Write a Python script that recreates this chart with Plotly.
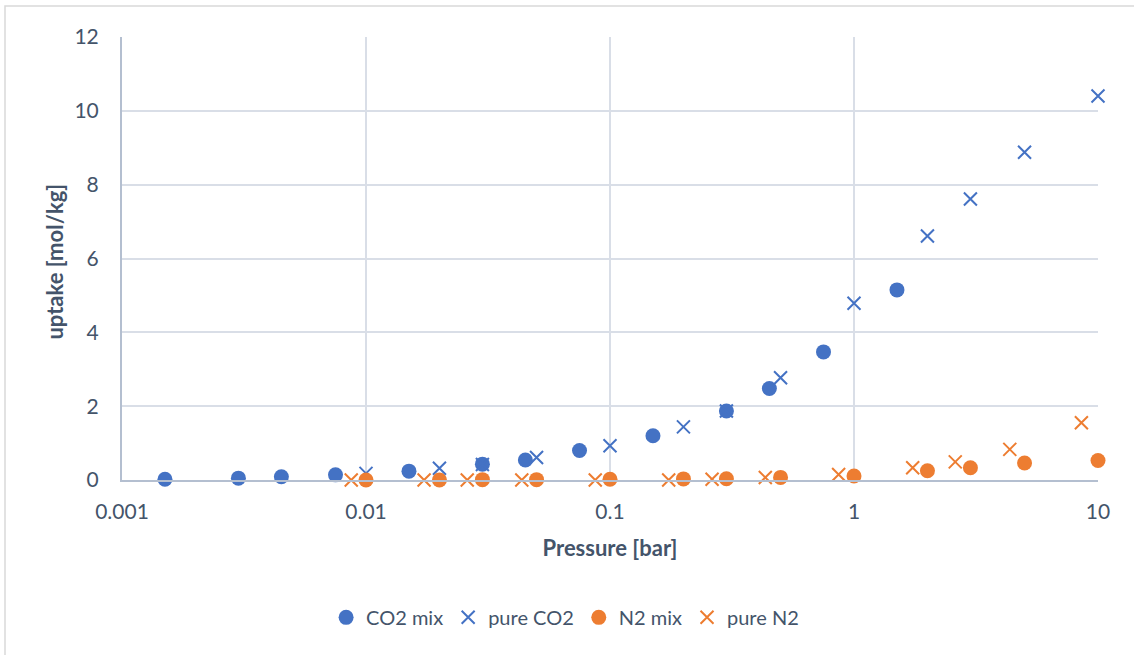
import plotly.graph_objects as go

# Data
co2_mix_p = [0.0015, 0.003, 0.0045, 0.0075, 0.015, 0.03, 0.045, 0.075, 0.15, 0.3, 0.45, 0.75, 1.5]
co2_mix_q = [0.02, 0.05, 0.09, 0.14, 0.24, 0.43, 0.54, 0.80, 1.20, 1.87, 2.48, 3.47, 5.15]

pure_co2_p = [0.01, 0.02, 0.03, 0.05, 0.1, 0.2, 0.3, 0.5, 1, 2, 3, 5, 10]
pure_co2_q = [0.18, 0.32, 0.42, 0.61, 0.93, 1.44, 1.87, 2.77, 4.79, 6.61, 7.61, 8.88, 10.40]

n2_mix_p = [0.01, 0.02, 0.03, 0.05, 0.1, 0.2, 0.3, 0.5, 1, 2, 3, 5, 10]
n2_mix_q = [0.0, 0.0, 0.01, 0.01, 0.02, 0.03, 0.035, 0.07, 0.11, 0.25, 0.33, 0.46, 0.53]

pure_n2_p = [0.0087, 0.0173, 0.026, 0.0435, 0.087, 0.174, 0.262, 0.433, 0.865, 1.74, 2.6, 4.35, 8.55]
pure_n2_q = [0.0, 0.0, 0.0, 0.0, 0.0, 0.0, 0.02, 0.07, 0.15, 0.33, 0.49, 0.83, 1.55]

x_tickvals = [0.001, 0.01, 0.1, 1, 10]
x_ticktext = ["0.001", "0.01", "0.1", "1", "10"]

BLUE = "#4472C4"
ORANGE = "#ED7D31"
TXT = "#44546A"
FONT = "Lato"

fig = go.Figure()
fig.add_trace(go.Scatter(x=co2_mix_p, y=co2_mix_q, mode="markers", name="CO2 mix",
                         marker=dict(symbol="circle", size=15, color=BLUE), cliponaxis=False))
fig.add_trace(go.Scatter(x=pure_co2_p, y=pure_co2_q, mode="markers", name="pure CO2",
                         marker=dict(symbol="x-thin", size=13, color=BLUE,
                                     line=dict(width=2, color=BLUE)), cliponaxis=False))
fig.add_trace(go.Scatter(x=n2_mix_p, y=n2_mix_q, mode="markers", name="N2 mix",
                         marker=dict(symbol="circle", size=15, color=ORANGE), cliponaxis=False))
fig.add_trace(go.Scatter(x=pure_n2_p, y=pure_n2_q, mode="markers", name="pure N2",
                         marker=dict(symbol="x-thin", size=13, color=ORANGE,
                                     line=dict(width=2, color=ORANGE)), cliponaxis=False))

fig.update_layout(
    width=1134, height=655,
    margin=dict(l=122, r=36, t=37, b=175),
    paper_bgcolor="white", plot_bgcolor="white",
    font=dict(family=FONT, size=21, color=TXT),
    showlegend=True,
    legend=dict(orientation="h", x=0.454, xanchor="center", y=-0.31, yanchor="middle",
                font=dict(size=20, color=TXT), itemsizing="trace", traceorder="normal"),
    xaxis=dict(type="log", range=[-3, 1], tickvals=x_tickvals, ticktext=x_ticktext,
               showgrid=True, gridcolor="#D9DEE7", gridwidth=2,
               showline=True, linecolor="#B4BFD0", linewidth=2,
               ticks="", ticklabelstandoff=12, zeroline=False,
               tickfont=dict(size=21, color=TXT),
               title=dict(text="<b>Pressure [bar]</b>", font=dict(size=22, color=TXT), standoff=18),
               mirror=False),
    yaxis=dict(range=[0, 12], dtick=2, showgrid=True, gridcolor="#D9DEE7", gridwidth=2,
               showline=True, linecolor="#B4BFD0", linewidth=2, zeroline=False,
               ticks="", ticklabelstandoff=17, tickfont=dict(size=21, color=TXT)),
    annotations=[dict(text="<b>uptake [mol/kg]</b>", xref="paper", yref="paper",
                      x=(55 - 122) / 976, y=0.493, xanchor="center", yanchor="middle",
                      textangle=-90, showarrow=False, font=dict(size=22, color=TXT))],
    shapes=[dict(type="rect", xref="paper", yref="paper",
                 x0=(5 - 122) / 976, x1=(1140 - 122) / 976,
                 y0=(480 - 660) / 443, y1=(480 - 6) / 443,
                 line=dict(color="#D9D9D9", width=1.5), layer="below")],
)

fig.write_html("out.html")
